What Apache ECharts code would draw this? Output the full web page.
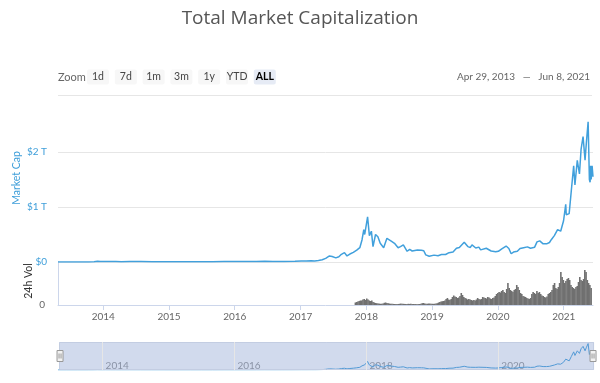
<!DOCTYPE html>
<html><head><meta charset="utf-8">
<script src="https://cdn.jsdelivr.net/npm/echarts@6/dist/echarts.min.js"></script>
<style>html,body{margin:0;padding:0;background:#fff}#c{width:600px;height:383px}</style>
</head><body><div id="c"></div>
<script>
// ---- data ----
const titleText = 'Total Market Capitalization';
const rangeText = 'Apr 29, 2013   —   Jun 8, 2021';
const rangeStart = '2013-04-29';
const rangeEnd = '2021-06-08';
const zoomButtons = ['1d','7d','1m','3m','1y','YTD','ALL'];
const selectedButton = 'ALL';
const navigatorYears = ['2014-01-01','2016-01-01','2018-01-01','2020-01-01'];

// total market cap, billions USD
const capDates = ['2013-04-29','2013-06-15','2013-08-15','2013-10-15','2013-11-15','2013-12-04','2013-12-20',
'2014-01-15','2014-02-15','2014-03-15','2014-04-15','2014-06-01','2014-08-01','2014-10-01','2014-12-01',
'2015-01-15','2015-03-01','2015-05-01','2015-07-01','2015-09-01','2015-11-05',
'2016-01-01','2016-03-01','2016-05-01','2016-06-17','2016-08-01','2016-10-01','2016-12-01',
'2017-01-05','2017-02-01','2017-03-01','2017-03-20','2017-04-10','2017-05-01','2017-05-20','2017-06-10','2017-06-25',
'2017-07-15','2017-08-01','2017-08-15','2017-09-01','2017-09-15','2017-10-01','2017-10-20','2017-11-08','2017-11-12',
'2017-11-25','2017-12-07','2017-12-17','2017-12-22',
'2018-01-07','2018-01-17','2018-01-28','2018-02-06','2018-02-20','2018-03-05','2018-03-18','2018-04-06','2018-04-24',
'2018-05-05','2018-05-20','2018-06-05','2018-06-25','2018-07-08','2018-07-24','2018-08-14','2018-08-28','2018-09-11',
'2018-09-22','2018-10-10','2018-11-01','2018-11-14','2018-11-25','2018-12-14','2018-12-24',
'2019-01-10','2019-02-01','2019-02-20','2019-03-15','2019-04-03','2019-04-25','2019-05-14','2019-05-30','2019-06-26',
'2019-07-16','2019-07-30','2019-08-08','2019-08-29','2019-09-15','2019-09-25','2019-10-26','2019-11-22','2019-12-17',
'2020-01-01','2020-01-20','2020-02-13','2020-02-28','2020-03-12','2020-03-25','2020-04-15','2020-04-30','2020-05-20',
'2020-06-10','2020-06-27','2020-07-20','2020-08-02','2020-08-17','2020-09-05','2020-09-24','2020-10-10','2020-10-21',
'2020-11-06','2020-11-24','2020-12-11','2020-12-27',
'2021-01-08','2021-01-11','2021-01-27','2021-02-08','2021-02-21','2021-02-28','2021-03-13','2021-03-25','2021-04-03',
'2021-04-14','2021-04-25','2021-05-03','2021-05-12','2021-05-19','2021-05-23','2021-05-26','2021-05-29','2021-06-03','2021-06-08'];
const capValues = [1.6,1.3,1.3,2.2,5,15,9,
11,8,8,6.5,9,7.5,5.5,5.3,
3.5,4.3,4.4,4.5,4.4,7,
7,7.2,9,13,10.5,11,13.5,
18,17,21,19,26,40,65,110,100,
75,95,140,170,110,145,175,215,180,
260,400,590,500,
820,480,560,280,500,460,340,260,430,
455,375,340,260,280,310,195,230,200,
235,220,215,205,130,105,140,
125,115,135,137,170,180,250,265,360,
280,265,310,255,270,220,250,200,185,
195,240,290,245,150,180,195,245,260,
275,250,270,365,385,330,330,355,410,
480,590,560,750,
1050,860,880,1300,1750,1400,1850,1600,2050,
2280,1850,2200,2550,1500,1450,1750,1500,1750,1550];

// 24h volume, billions USD, one value per week starting volStart
const volStart = '2017-11-01';
const volValues = [25,30,35,40,45, 45,55,60,50, 65,55,45,40, 45,30,25,20, 18,15,14,12, 12,15,22,25,
20,18,15,12,12, 11,10,9,10, 10,12,14,13, 12,11,10,10,12, 11,12,10,10, 9,9,8,9, 10,12,18,20,15, 13,12,15,14,
13,12,12,12, 14,18,25,30, 35,38,40,45, 60,70,55,50, 60,80,95,85,80, 70,75,90,120, 100,80,70,65,55,
60,55,50,45, 50,45,55,70, 60,55,60,80,75, 70,65,80,75, 65,60,70,75,
90,110,120,130,125, 140,150,130,120, 160,220,170,150, 140,130,150,160,200, 180,150,120,110, 90,85,80,70,
65,60,70,110,130, 120,110,140,120, 130,110,95,90, 80,75,85,110,120, 130,150,200,220, 170,160,180,220,
330,280,250,220, 240,260,270,250, 200,180,170,160,180, 190,230,280,250,240, 260,350,330,250,220, 200,170];

const capTicks = [0, 1000, 2000];

// ---- build ----
const DAY = 864e5;
const capData = capDates.map((d, i) => [d, capValues[i]]);
const volData = volValues.map((v, i) => [Date.parse(volStart) + i * 7 * DAY, v]);
const isJan1 = v => { const d = new Date(v); return d.getMonth() === 0 && d.getDate() === 1; };
const yearLabel = v => isJan1(v) ? String(new Date(v).getFullYear()) : '';
const evenYearLabel = v => (isJan1(v) && new Date(v).getFullYear() % 2 === 0) ? String(new Date(v).getFullYear()) : '';
const capLabel = v => capTicks.indexOf(v) < 0 ? '' : (v === 0 ? '$0' : '$' + (v / 1000) + ' T');

const FONT = 'Lato';
const BLUE = '#3f9fda';
const L = 58, W = 535;

const graphics = [
  {type:'text', x:L, y:77, style:{text:'Zoom', font:'11px Lato', fill:'#666', textVerticalAlign:'middle', verticalAlign:'middle'}},
  {type:'line', shape:{x1:L, y1:95.5, x2:L+W-1, y2:95.5}, style:{stroke:'#e6e6e6', lineWidth:1}},
  {type:'text', x:590, y:77, style:{text:rangeText, font:'10px Lato', fill:'#666', textAlign:'right', align:'right', textVerticalAlign:'middle', verticalAlign:'middle'}},
  {type:'text', x:16.5, y:178, rotation:Math.PI/2, style:{text:'Market Cap', font:'10.5px Lato', fill:BLUE, textAlign:'center', align:'center', textVerticalAlign:'middle', verticalAlign:'middle'}},
  {type:'text', x:28.5, y:281, rotation:Math.PI/2, style:{text:'24h Vol', font:'10.5px Lato', fill:'#333', textAlign:'center', align:'center', textVerticalAlign:'middle', verticalAlign:'middle'}}
];
zoomButtons.forEach((b, i) => {
  const x = 87 + i * 27.8;
  const sel = b === selectedButton;
  graphics.push({type:'rect', shape:{x:x, y:69.5, width:22, height:15, r:2}, style:{fill: sel ? '#e6ebf5' : '#f7f7f7'}});
  graphics.push({type:'text', x:x + 11, y:77, style:{text:b, font:(sel ? 'bold ' : '') + '10.5px Lato', fill: sel ? '#000' : '#444', textAlign:'center', align:'center', textVerticalAlign:'middle', verticalAlign:'middle'}});
});

const chart = echarts.init(document.getElementById('c'), null, {renderer:'canvas'});
chart.setOption({
  animation:false,
  textStyle:{fontFamily:FONT},
  title:{text:titleText, left:'center', top:4, textStyle:{fontSize:19, fontWeight:'normal', color:'#555', fontFamily:'Open Sans'}},
  grid:[
    {left:L, width:W, top:119, height:143},
    {left:L, width:W, top:262, height:43},
    {left:L, width:W, top:342, height:28}
  ],
  xAxis:[
    {type:'time', gridIndex:0, min:rangeStart, max:rangeEnd, show:false},
    {type:'time', gridIndex:1, min:rangeStart, max:rangeEnd, splitNumber:8, minInterval:365*DAY, maxInterval:366*DAY,
      axisLine:{lineStyle:{color:'#ccd6eb'}}, axisTick:{length:5, lineStyle:{color:'#ccd6eb'}},
      axisLabel:{formatter:yearLabel, color:'#666', fontSize:10, margin:7, fontFamily:FONT}, splitLine:{show:false}},
    {type:'time', gridIndex:2, min:rangeStart, max:rangeEnd, splitNumber:8, minInterval:365*DAY, maxInterval:366*DAY,
      axisLine:{show:false}, axisTick:{show:false},
      axisLabel:{formatter:evenYearLabel, inside:true, align:'left', padding:[0,0,0,3], color:'#999', fontSize:10, margin:-1, fontFamily:FONT},
      splitLine:{show:false}}
  ],
  yAxis:[
    {type:'value', gridIndex:0, min:0, max:2600, interval:1000, axisLine:{show:false}, axisTick:{show:false},
      axisLabel:{formatter:capLabel, color:BLUE, fontSize:10, margin:11, fontFamily:FONT},
      splitLine:{lineStyle:{color:['#e6e6e6','#e6e6e6','#e6e6e6','rgba(0,0,0,0)']}}},
    {type:'value', gridIndex:1, min:0, max:430, interval:430, axisLine:{show:true, lineStyle:{color:'#ccd6eb'}}, axisTick:{show:false},
      axisLabel:{formatter:v => v === 0 ? '0' : '', color:'#666', fontSize:10, margin:13, fontFamily:FONT}, splitLine:{show:false}},
    {type:'value', gridIndex:2, min:0, max:2700, show:false, splitLine:{show:false}}
  ],
  dataZoom:[{
    type:'slider', xAxisIndex:2, filterMode:'none', start:0, end:100,
    left:L, width:W, top:342, height:28,
    backgroundColor:'rgba(0,0,0,0)', borderColor:'#c3cde2', fillerColor:'rgba(102,133,194,0.3)',
    showDataShadow:false, showDetail:false, brushSelect:false, moveHandleSize:0, zoomLock:true,
    handleIcon:'path://M-3,-5.5h6v11h-6z M-1,-2.5v5 M1,-2.5v5', handleSize:11,
    handleStyle:{color:'#f2f2f2', borderColor:'#999', borderWidth:1},
    emphasis:{handleStyle:{borderColor:'#999'}}
  }],
  graphic:graphics,
  series:[
    {type:'line', name:'Market Cap', xAxisIndex:0, yAxisIndex:0, data:capData, showSymbol:false,
      lineStyle:{color:'#41a0dc', width:1.5}, itemStyle:{color:'#41a0dc'}, z:3},
    {type:'bar', name:'24h Vol', xAxisIndex:1, yAxisIndex:1, data:volData, barWidth:1.6,
      itemStyle:{color:'#707070'}},
    {type:'line', name:'Navigator', xAxisIndex:2, yAxisIndex:2, data:capData, showSymbol:false,
      lineStyle:{color:'#4aa3dd', width:1}, z:2,
      markLine:{silent:true, symbol:'none', label:{show:false}, animation:false,
        lineStyle:{color:'#e6e6e6', width:1, type:'solid'},
        data:navigatorYears.map(d => ({xAxis:d}))}}
  ]
});
</script>
</body></html>
